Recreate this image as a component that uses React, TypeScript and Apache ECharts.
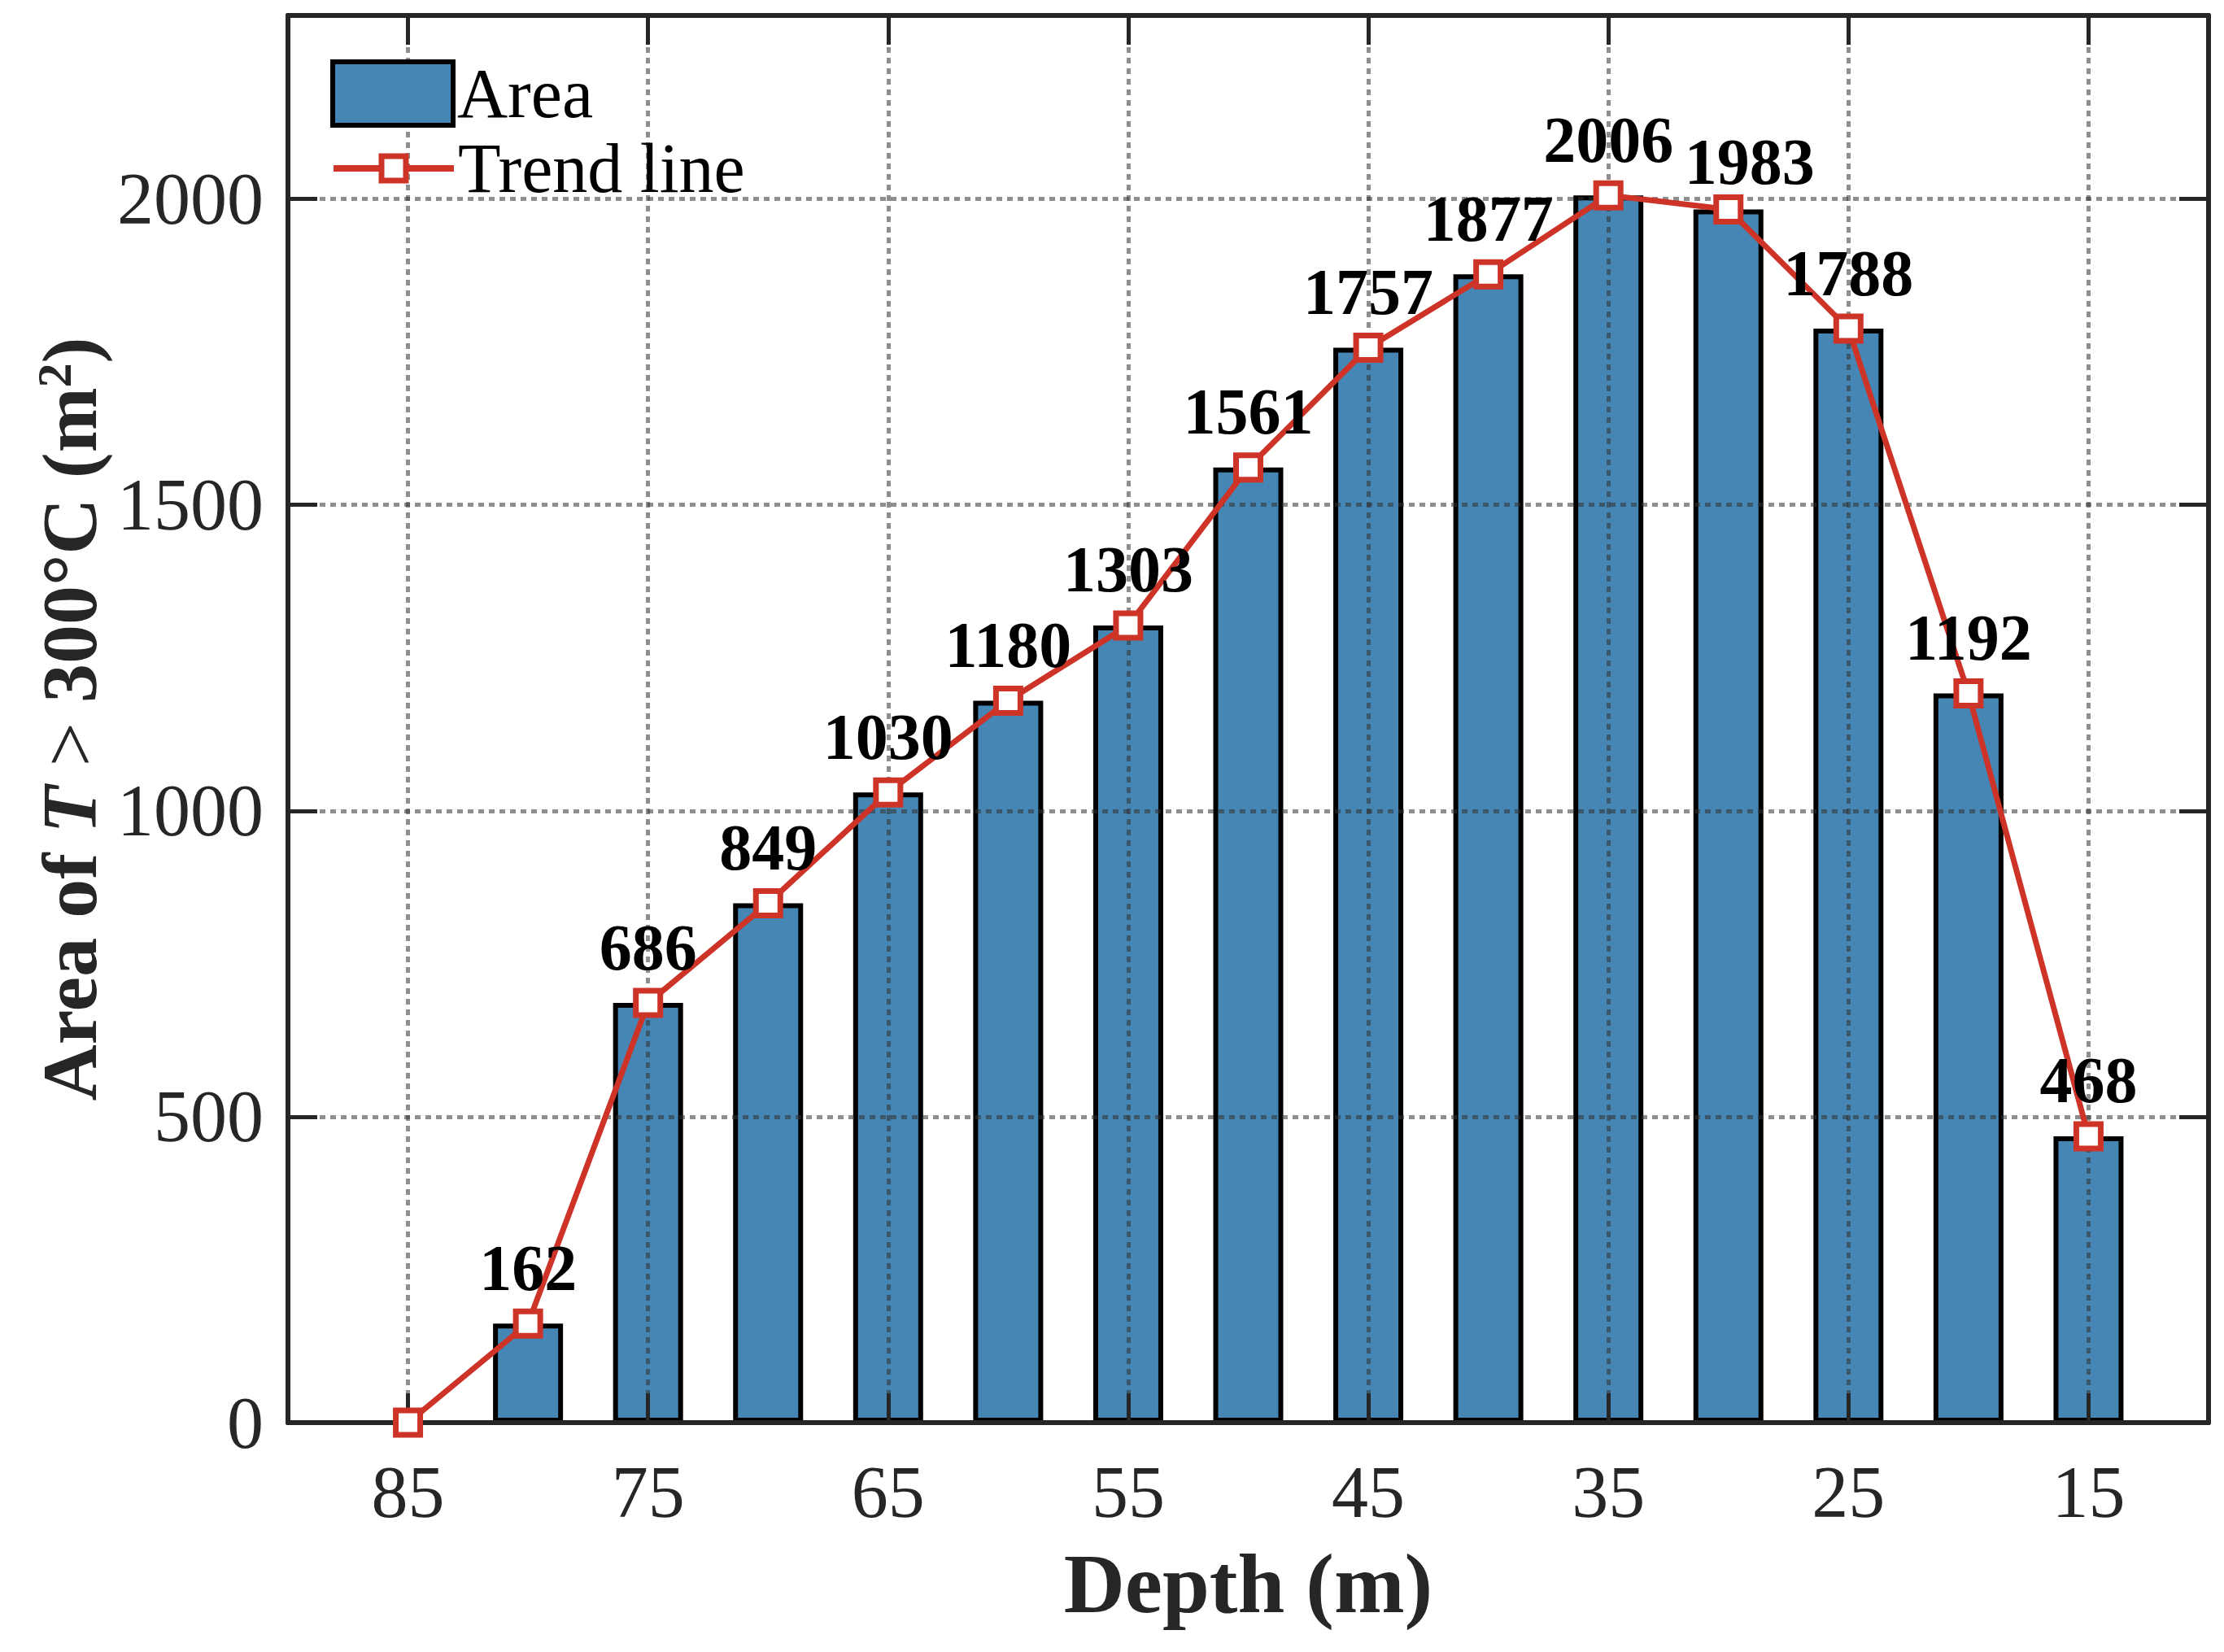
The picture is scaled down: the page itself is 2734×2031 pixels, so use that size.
import React, { useEffect, useRef } from "react";
import * as echarts from "echarts";

const depths = [85, 80, 75, 70, 65, 60, 55, 50, 45, 40, 35, 30, 25, 20, 15];
const areas = [0, 162, 686, 849, 1030, 1180, 1303, 1561, 1757, 1877, 2006, 1983, 1788, 1192, 468];
const xTickLabels = [85, 75, 65, 55, 45, 35, 25, 15];
const yTickLabels = [0, 500, 1000, 1500, 2000];
const xRange = [10, 90];
const yRange = [0, 2300];

const FONT = "'Liberation Serif', 'Times New Roman', Times, serif";
const INK = "#262626";
const BLUE = "#4686b4";
const RED = "#cd3327";
const GRID = "rgba(50,50,50,0.55)";

export default function App() {
  const ref = useRef<HTMLDivElement>(null);
  useEffect(() => {
    document.body.style.margin = "0";
    const chart = echarts.init(ref.current!, null, { renderer: "svg" });
    const pairs = depths.map((d, i) => [d, areas[i]]);
    // the reference nudges the label of the 30 m point to the right, to clear the 2006 label
    const linePoints = pairs.map((p) =>
      p[0] === 30 ? { value: p, label: { offset: [26, 10] } } : { value: p }
    );
    const axisLine = { show: true, onZero: false, lineStyle: { color: INK, width: 6 } };
    const tickStyle = { show: true, inside: true, length: 36, lineStyle: { color: INK, width: 5 } };
    const split = { show: true, lineStyle: { color: GRID, width: 5, type: [7, 6] } };
    const titleBase = { fontFamily: FONT, fontSize: 96, fontWeight: "bold", color: INK };
    const legendText = { fontFamily: FONT, fontSize: 86, color: "#000" };
    chart.setOption({
      animation: false,
      backgroundColor: "#ffffff",
      grid: { left: 354, right: 19, top: 19, bottom: 282 },
      legend: [
        {
          data: ["Area"],
          left: 406,
          top: 72,
          padding: 0,
          icon: "rect",
          itemWidth: 148,
          itemHeight: 78,
          selectedMode: false,
          itemStyle: { borderColor: "#000", borderWidth: 6 },
          textStyle: legendText,
        },
        {
          data: ["Trend line"],
          left: 406,
          top: 164,
          padding: 0,
          itemWidth: 148,
          itemHeight: 37.5,
          selectedMode: false,
          lineStyle: { color: RED, width: 8 },
          itemStyle: { color: "#ffffff", borderColor: RED, borderWidth: 7 },
          textStyle: legendText,
        },
      ],
      xAxis: [
        {
          type: "value",
          inverse: true,
          min: xRange[0],
          max: xRange[1],
          position: "bottom",
          z: 3,
          axisLine,
          axisTick: { ...tickStyle, customValues: xTickLabels },
          axisLabel: {
            customValues: xTickLabels,
            formatter: (v: number) => String(v),
            fontFamily: FONT,
            fontSize: 90,
            color: INK,
            margin: 40,
          },
          splitLine: split,
          name: "Depth (m)",
          nameLocation: "middle",
          nameGap: 145,
          nameTextStyle: { ...titleBase, fontSize: 104 },
        },
        {
          type: "value",
          inverse: true,
          min: xRange[0],
          max: xRange[1],
          position: "top",
          z: 3,
          axisLine,
          axisTick: { ...tickStyle, customValues: xTickLabels },
          axisLabel: { show: false, customValues: xTickLabels },
          splitLine: { show: false },
        },
      ],
      yAxis: [
        {
          type: "value",
          min: yRange[0],
          max: yRange[1],
          position: "left",
          z: 3,
          axisLine,
          axisTick: { ...tickStyle, customValues: yTickLabels },
          axisLabel: {
            customValues: yTickLabels,
            formatter: (v: number) => String(v),
            fontFamily: FONT,
            fontSize: 90,
            color: INK,
            margin: 30,
          },
          splitLine: split,
          name: "{b|Area of }{i|T}{n| > }{b|300°C (m}{s|2}{b|)}",
          nameLocation: "middle",
          nameGap: 218,
          nameTextStyle: {
            ...titleBase,
            rich: {
              b: { ...titleBase },
              i: { ...titleBase, fontStyle: "italic" },
              n: { ...titleBase, fontWeight: "normal" },
              s: { ...titleBase, fontSize: 60, verticalAlign: "top" },
            },
          },
        },
        {
          type: "value",
          min: yRange[0],
          max: yRange[1],
          position: "right",
          z: 3,
          axisLine,
          axisTick: { ...tickStyle, customValues: yTickLabels },
          axisLabel: { show: false, customValues: yTickLabels },
          splitLine: { show: false },
        },
      ],
      series: [
        {
          type: "bar",
          name: "Area",
          data: pairs,
          barWidth: 86,
          z: 2,
          itemStyle: { color: BLUE, borderColor: "#000", borderWidth: 6 },
        },
        {
          type: "line",
          name: "Trend line",
          data: linePoints,
          z: 5,
          symbol: "rect",
          symbolSize: 30,
          itemStyle: { color: "#ffffff", borderColor: RED, borderWidth: 7 },
          lineStyle: { color: RED, width: 7 },
          label: {
            show: true,
            position: "top",
            distance: 10,
            fontFamily: FONT,
            fontSize: 80,
            fontWeight: "bold",
            color: "#000",
            formatter: (p: any) => (p.value[1] === 0 ? "" : String(p.value[1])),
          },
        },
      ],
    });
    return () => chart.dispose();
  }, []);
  return (
    <div
      ref={ref}
      style={{ position: "absolute", left: 0, top: 0, width: 2734, height: 2031, background: "#fff" }}
    />
  );
}
